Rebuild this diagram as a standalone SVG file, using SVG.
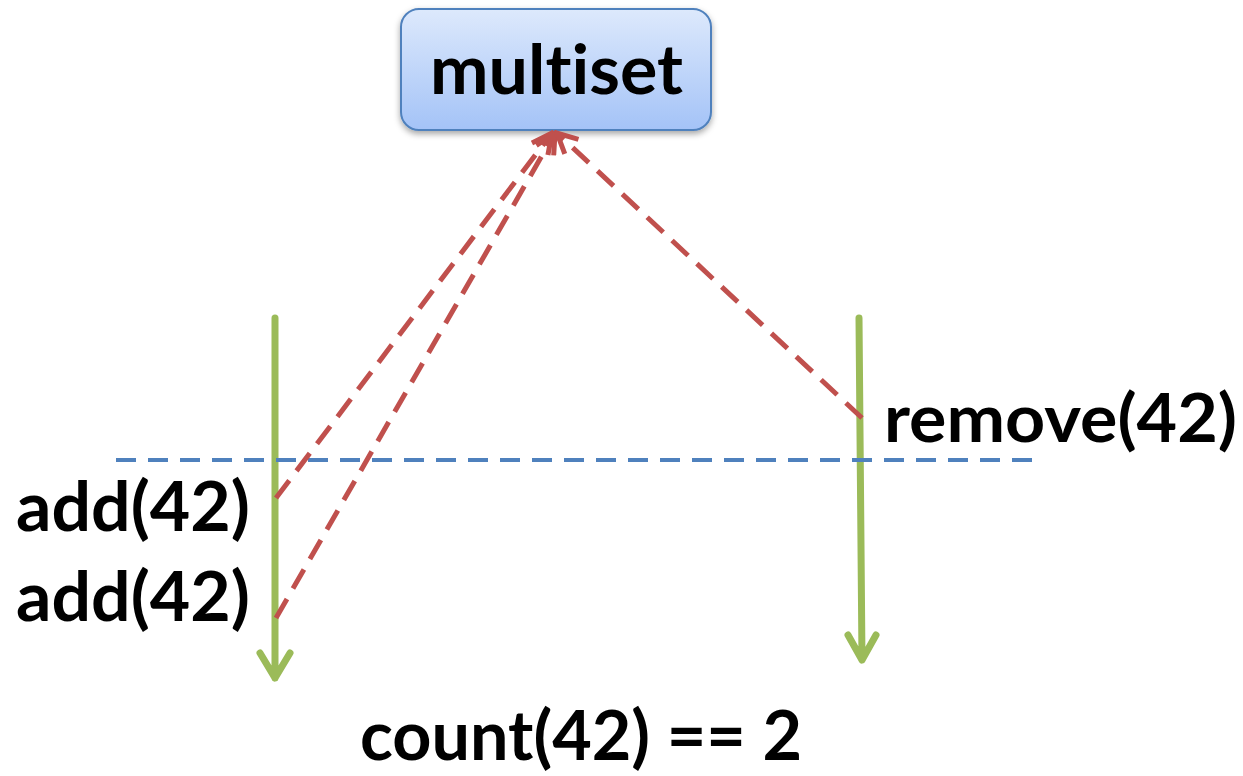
<svg xmlns="http://www.w3.org/2000/svg" width="1243" height="776" viewBox="0 0 1243 776">
<style>
.t{font-family:Lato,"Open Sans","Liberation Sans",sans-serif;font-weight:bold;fill:#000;font-variant-ligatures:none;font-feature-settings:"liga" 0}
.g{stroke:#9bbb59;stroke-width:7;fill:none;stroke-linecap:round;stroke-linejoin:round}
.r{stroke:#c0504d;stroke-width:5;fill:none;stroke-dasharray:22 12}
.b{stroke:#4f81bd;stroke-width:4;fill:none;stroke-dasharray:20 12}
</style>
<defs>
<linearGradient id="bg" x1="0" y1="0" x2="0" y2="1">
<stop offset="0" stop-color="#dde9fc"/>
<stop offset="1" stop-color="#a4c3f7"/>
</linearGradient>
<filter id="sh" x="-10%" y="-10%" width="120%" height="130%">
<feDropShadow dx="0" dy="3" stdDeviation="3" flood-color="#000" flood-opacity="0.35"/>
</filter>
<marker id="ah" viewBox="0 0 10 10" refX="9" refY="5" markerWidth="5" markerHeight="5" orient="auto" markerUnits="strokeWidth">
<path d="M1,1 L9,5 L1,9" fill="none" stroke="#c0504d" stroke-width="2"/>
</marker>
</defs>
<g id="multiset">
<rect x="401" y="9" width="310" height="121" rx="18" fill="url(#bg)" stroke="#4f81bd" stroke-width="2" filter="url(#sh)"/>
<text class="t" x="430" y="94" font-size="68" textLength="253" lengthAdjust="spacingAndGlyphs">multiset</text>
</g>
<g id="timelines">
<path class="g" d="M275,318 L275,678 M260,653 L275,678 L290,653"/>
<path class="g" d="M859,318 L862,660 M848,635 L862,660 L876,635"/>
</g>
<g id="connectors">
<line class="b" x1="116" y1="460" x2="1033" y2="460"/>
<line class="r" x1="276" y1="498" x2="552" y2="133" marker-end="url(#ah)"/>
<line class="r" x1="276" y1="618" x2="555" y2="133" marker-end="url(#ah)"/>
<line class="r" x1="862" y1="418" x2="557" y2="133" marker-end="url(#ah)"/>
</g>
<g id="labels">
<text class="t" x="884" y="442" font-size="66" textLength="353" lengthAdjust="spacingAndGlyphs">remove(42)</text>
<text class="t" x="16" y="531" font-size="68" textLength="234" lengthAdjust="spacingAndGlyphs">add(42)</text>
<text class="t" x="16" y="621" font-size="68" textLength="234" lengthAdjust="spacingAndGlyphs">add(42)</text>
<text class="t" x="360" y="760" font-size="68" textLength="442" lengthAdjust="spacingAndGlyphs">count(42) == 2</text>
</g>
</svg>
